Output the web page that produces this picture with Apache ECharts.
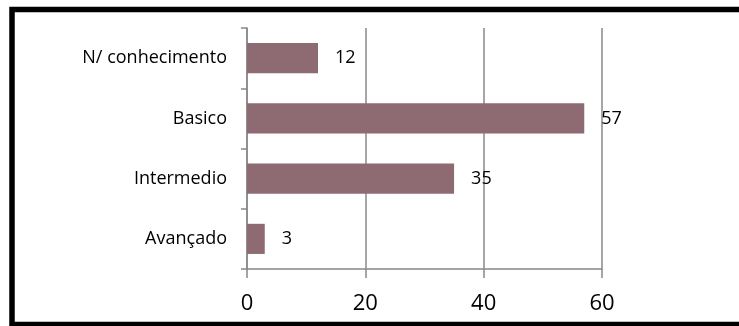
<!DOCTYPE html>
<html>
<head>
<meta charset="utf-8">
<script src="https://cdn.jsdelivr.net/npm/echarts@6/dist/echarts.min.js"></script>
<style>
  html, body { margin: 0; padding: 0; background: #fff; }
  #chart { width: 739px; height: 326px; }
</style>
</head>
<body>
<div id="chart"></div>
<script>
// Knowledge level categories, listed top to bottom
const categories = ['N/ conhecimento', 'Basico', 'Intermedio', 'Avançado'];
const values = [12, 57, 35, 3];
const xTicks = [0, 20, 40, 60];

const FONT = '"Open Sans", "Liberation Sans", sans-serif';
const axisGray = '#888888';

const chart = echarts.init(document.getElementById('chart'), null, { renderer: 'canvas' });

chart.setOption({
  animation: false,
  backgroundColor: '#ffffff',
  grid: { left: 247, right: 137, top: 28, bottom: 57, containLabel: false },
  xAxis: {
    type: 'value',
    min: xTicks[0],
    max: xTicks[xTicks.length - 1],
    interval: xTicks[1] - xTicks[0],
    axisLine: { show: true, lineStyle: { color: axisGray, width: 1.5 } },
    axisTick: { show: true, length: 9, lineStyle: { color: axisGray, width: 1.5 } },
    splitLine: { show: true, lineStyle: { color: axisGray, width: 1.5 } },
    axisLabel: { color: '#000', fontSize: 22, fontFamily: FONT, margin: 24 }
  },
  yAxis: {
    type: 'category',
    data: categories,
    inverse: true,
    axisLine: { show: true, lineStyle: { color: axisGray, width: 1.5 } },
    axisTick: { show: true, length: 6, lineStyle: { color: axisGray, width: 1.5 } },
    axisLabel: { color: '#000', fontSize: 18, fontFamily: FONT, margin: 20 }
  },
  series: [{
    type: 'bar',
    data: values,
    barWidth: '50%',
    itemStyle: { color: '#8E6A73' },
    label: {
      show: true,
      position: 'right',
      distance: 17,
      color: '#000',
      fontSize: 18,
      fontFamily: FONT
    }
  }],
  graphic: [{
    type: 'rect',
    shape: { x: 12, y: 9.5, width: 760, height: 315 },
    style: { fill: 'none', stroke: '#000', lineWidth: 5.5 },
    silent: true,
    z: 100
  }]
});
</script>
</body>
</html>
